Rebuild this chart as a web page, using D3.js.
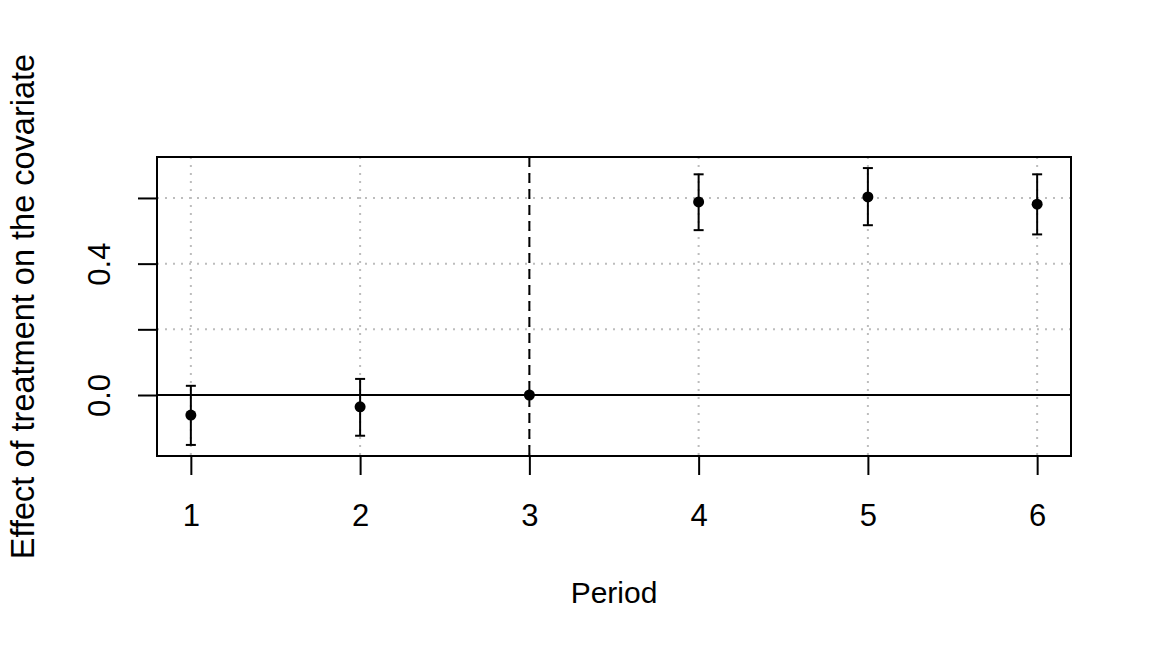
<!DOCTYPE html>
<html>
<head>
<meta charset="utf-8">
<script src="https://cdn.jsdelivr.net/npm/d3@7"></script>
<style>
  html, body { margin: 0; padding: 0; background: #fff; }
  svg text { font-family: "Liberation Sans", Arial, sans-serif; fill: #000; }
</style>
</head>
<body>
<div id="chart"></div>
<script>
const width = 1152;
const height = 652;

// data
const periods = [1, 2, 3, 4, 5, 6];
const estimates = [-0.061, -0.036, 0, 0.588, 0.603, 0.581];
const lower = [-0.152, -0.124, 0, 0.502, 0.517, 0.489];
const upper = [0.028, 0.049, 0, 0.672, 0.691, 0.672];

const yTicks = [0, 0.2, 0.4, 0.6];
const yTickLabels = ['0.0', '', '0.4', ''];
const xTickLabels = ['1', '2', '3', '4', '5', '6'];
const refPeriod = 3;

const plot = { left: 157, right: 1071, top: 157, bottom: 456 };

// R style 4% padding on both axes
function padded(lo, hi) {
  const pad = (hi - lo) * 0.04;
  return [lo - pad, hi + pad];
}

const xScale = d3.scaleLinear()
  .domain(padded(d3.min(periods), d3.max(periods)))
  .range([plot.left, plot.right]);

const yScale = d3.scaleLinear()
  .domain(padded(d3.min(lower), d3.max(upper)))
  .range([plot.bottom, plot.top]);

const points = periods.map((p, i) => ({ x: p, y: estimates[i], lo: lower[i], hi: upper[i] }));

const svg = d3.select('#chart').append('svg')
  .attr('width', width)
  .attr('height', height);

// grid
const grid = svg.append('g')
  .attr('stroke', '#bdbdbd')
  .attr('stroke-width', 2)
  .attr('stroke-dasharray', '2,6');

grid.selectAll('.gx')
  .data(periods)
  .enter()
  .append('line')
    .attr('x1', d => xScale(d))
    .attr('x2', d => xScale(d))
    .attr('y1', plot.top)
    .attr('y2', plot.bottom);

grid.selectAll('.gy')
  .data(yTicks)
  .enter()
  .append('line')
    .attr('x1', plot.left)
    .attr('x2', plot.right)
    .attr('y1', d => yScale(d))
    .attr('y2', d => yScale(d));

// zero line and reference period
svg.append('line')
  .attr('x1', plot.left)
  .attr('x2', plot.right)
  .attr('y1', yScale(0))
  .attr('y2', yScale(0))
  .attr('stroke', '#000')
  .attr('stroke-width', 2);

svg.append('line')
  .attr('x1', xScale(refPeriod))
  .attr('x2', xScale(refPeriod))
  .attr('y1', plot.top)
  .attr('y2', plot.bottom)
  .attr('stroke', '#000')
  .attr('stroke-width', 2)
  .attr('stroke-dasharray', '10,6');

// error bars
const bars = svg.append('g')
  .attr('stroke', '#000')
  .attr('stroke-width', 2)
  .selectAll('g')
  .data(points.filter(d => d.hi > d.lo))
  .enter()
  .append('g');

bars.append('line')
  .attr('x1', d => xScale(d.x))
  .attr('x2', d => xScale(d.x))
  .attr('y1', d => yScale(d.lo))
  .attr('y2', d => yScale(d.hi));

bars.append('line')
  .attr('x1', d => xScale(d.x) - 5)
  .attr('x2', d => xScale(d.x) + 5)
  .attr('y1', d => yScale(d.hi))
  .attr('y2', d => yScale(d.hi));

bars.append('line')
  .attr('x1', d => xScale(d.x) - 5)
  .attr('x2', d => xScale(d.x) + 5)
  .attr('y1', d => yScale(d.lo))
  .attr('y2', d => yScale(d.lo));

// points
svg.selectAll('circle')
  .data(points)
  .enter()
  .append('circle')
    .attr('cx', d => xScale(d.x))
    .attr('cy', d => yScale(d.y))
    .attr('r', 5.5)
    .attr('fill', '#000');

// box
svg.append('rect')
  .attr('x', plot.left)
  .attr('y', plot.top)
  .attr('width', plot.right - plot.left)
  .attr('height', plot.bottom - plot.top)
  .attr('fill', 'none')
  .attr('stroke', '#000')
  .attr('stroke-width', 2);

// axes
const xAxis = d3.axisBottom(xScale)
  .tickValues(periods)
  .tickFormat((d, i) => xTickLabels[i])
  .tickSize(19)
  .tickPadding(0);

const gx = svg.append('g')
  .attr('transform', `translate(0, ${plot.bottom})`)
  .call(xAxis);
gx.select('.domain').remove();
gx.selectAll('line').attr('stroke', '#000').attr('stroke-width', 2);
gx.selectAll('text')
  .attr('y', 70)
  .attr('dy', 0)
  .style('font-size', '31px')
  .style('font-family', '"Liberation Sans", Arial, sans-serif')
  .attr('fill', '#000');

const yAxis = d3.axisLeft(yScale)
  .tickValues(yTicks)
  .tickFormat((d, i) => yTickLabels[i])
  .tickSize(19);

const gy = svg.append('g')
  .attr('transform', `translate(${plot.left}, 0)`)
  .call(yAxis);
gy.select('.domain').remove();
gy.selectAll('line').attr('stroke', '#000').attr('stroke-width', 2);
gy.selectAll('text')
  .attr('x', 0)
  .attr('dy', 0)
  .attr('transform', 'translate(-47, 0) rotate(-90)')
  .attr('text-anchor', 'middle')
  .style('font-size', '31px')
  .style('font-family', '"Liberation Sans", Arial, sans-serif')
  .attr('fill', '#000');

// axis titles
svg.append('text')
  .attr('x', (plot.left + plot.right) / 2)
  .attr('y', 603)
  .attr('text-anchor', 'middle')
  .style('font-size', '30px')
  .text('Period');

svg.append('text')
  .attr('transform', `translate(34, ${(plot.top + plot.bottom) / 2}) rotate(-90)`)
  .attr('text-anchor', 'middle')
  .style('font-size', '32.5px')
  .text('Effect of treatment on the covariate');
</script>
</body>
</html>
